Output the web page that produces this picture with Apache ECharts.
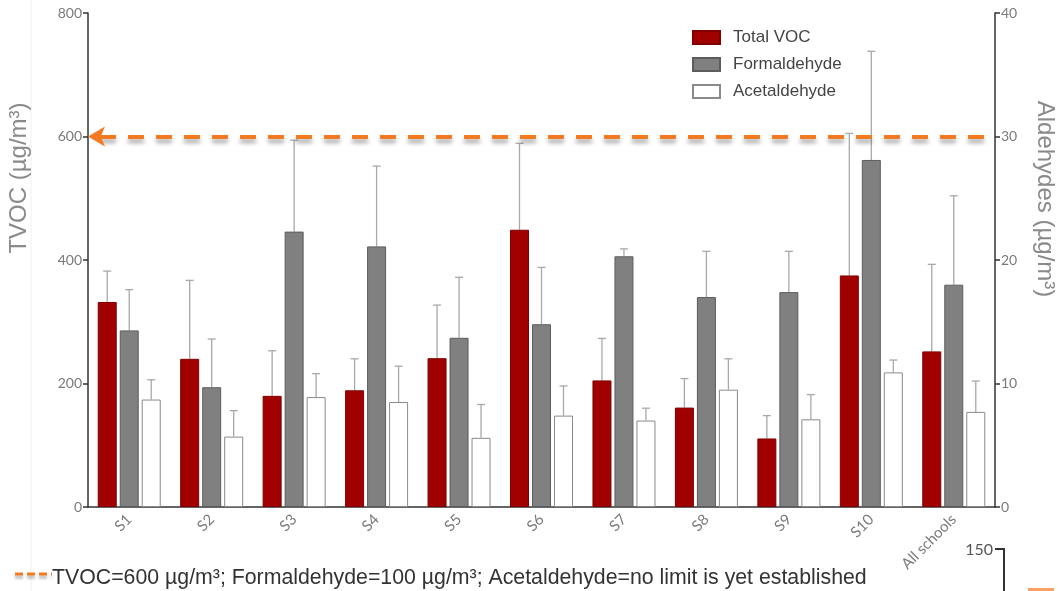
<!DOCTYPE html>
<html>
<head>
<meta charset="utf-8">
<script src="https://cdn.jsdelivr.net/npm/echarts@6/dist/echarts.min.js"></script>
<style>
html,body{margin:0;padding:0;background:#fff;}
#chart{width:1060px;height:591px;}
</style>
</head>
<body>
<div id="chart"></div>
<script>
// ---- data ----
var categories = ['S1','S2','S3','S4','S5','S6','S7','S8','S9','S10','All schools'];
var tvoc      = [332, 240, 180, 189, 241, 449, 205, 161, 111, 375, 252];
var tvocErr   = [382, 367, 253, 240, 327, 589, 273, 208, 148, 605, 393];
var formaldehyde    = [14.3, 9.7, 22.3, 21.1, 13.7, 14.8, 20.3, 17.0, 17.4, 28.1, 18.0];
var formaldehydeErr = [17.6, 13.6, 29.7, 27.6, 18.6, 19.4, 20.9, 20.7, 20.7, 36.9, 25.2];
var acetaldehyde    = [8.7, 5.7, 8.9, 8.5, 5.6, 7.4, 7.0, 9.5, 7.1, 10.9, 7.7];
var acetaldehydeErr = [10.3, 7.8, 10.8, 11.4, 8.3, 9.8, 8.0, 12.0, 9.1, 11.9, 10.2];
var tvocTicks = [0, 200, 400, 600, 800];
var aldehydeTicks = [0, 10, 20, 30, 40];
var tvocLimit = 600;

var BAR_W = 19, BAR_GAP = 3;

function errSeries(name, vals, errs, yIdx, offsetIdx) {
  var data = vals.map(function (v, i) { return [i, v, errs[i]]; });
  return {
    type: 'custom',
    name: name + ' err',
    yAxisIndex: yIdx,
    silent: true,
    z: 1,
    data: data,
    renderItem: function (params, api) {
      var i = api.value(0);
      var p0 = api.coord([i, api.value(1)]);
      var p1 = api.coord([i, api.value(2)]);
      var x = p0[0] + offsetIdx * (BAR_W + BAR_GAP);
      return {
        type: 'group',
        children: [
          { type: 'line', shape: { x1: x, y1: p0[1], x2: x, y2: p1[1] },
            style: { stroke: '#a8a8a8', lineWidth: 1.3 } },
          { type: 'line', shape: { x1: x - 4, y1: p1[1], x2: x + 4, y2: p1[1] },
            style: { stroke: '#a8a8a8', lineWidth: 1.3 } }
        ]
      };
    }
  };
}

var chart = echarts.init(document.getElementById('chart'), null, { renderer: 'canvas' });
var axisColor = '#333';
var labelColor = '#7a7a7a';

chart.setOption({
  animation: false,
  backgroundColor: '#fff',
  textStyle: { fontFamily: 'Liberation Sans, Arial, sans-serif' },
  grid: { left: 88, right: 65, top: 13, bottom: 84, containLabel: false },
  legend: {
    orient: 'vertical',
    left: 687,
    top: 24,
    icon: 'rect',
    itemWidth: 27,
    itemHeight: 13,
    itemGap: 10,
    selectedMode: false,
    textStyle: { fontSize: 17, color: '#444', padding: [0, 0, 0, 8] },
    data: [
      { name: 'Total VOC' },
      { name: 'Formaldehyde' },
      { name: 'Acetaldehyde' }
    ]
  },
  xAxis: {
    type: 'category',
    data: categories,
    axisLine: { lineStyle: { color: axisColor, width: 1.5 } },
    axisTick: { alignWithLabel: true, length: 5, lineStyle: { color: axisColor, width: 1.5 } },
    axisLabel: { rotate: 45, color: labelColor, fontSize: 15, margin: 10, fontFamily: 'Lato, sans-serif' },
    splitLine: { show: false }
  },
  yAxis: [
    {
      type: 'value', min: tvocTicks[0], max: tvocTicks[tvocTicks.length - 1], interval: 200,
      axisLine: { show: true, lineStyle: { color: axisColor, width: 1.5 } },
      axisTick: { show: true, length: 5, lineStyle: { color: axisColor, width: 1.5 } },
      axisLabel: { color: labelColor, fontSize: 14, margin: 6, fontFamily: 'Lato, sans-serif' },
      splitLine: { show: false }
    },
    {
      type: 'value', position: 'right', min: aldehydeTicks[0], max: aldehydeTicks[aldehydeTicks.length - 1], interval: 10,
      axisLine: { show: true, lineStyle: { color: axisColor, width: 1.5 } },
      axisTick: { show: true, length: 5, lineStyle: { color: axisColor, width: 1.5 } },
      axisLabel: { color: labelColor, fontSize: 14, margin: 6, fontFamily: 'Lato, sans-serif' },
      splitLine: { show: false }
    }
  ],
  series: [
    {
      name: 'Total VOC', type: 'bar', yAxisIndex: 0, data: tvoc,
      barWidth: BAR_W, barGap: (BAR_GAP / BAR_W * 100) + '%', z: 2,
      itemStyle: { color: '#a00000', borderColor: '#800000', borderWidth: 1 },
      markLine: {
        silent: true,
        symbol: ['arrow', 'none'],
        symbolSize: [15, 17],
        label: { show: false },
        lineStyle: {
          color: '#f47a22', width: 4, type: [16, 12], dashOffset: -12,
          shadowColor: 'rgba(0,0,0,0.35)', shadowBlur: 4, shadowOffsetY: 4
        },
        emphasis: { disabled: true },
        data: [{ yAxis: tvocLimit }]
      }
    },
    {
      name: 'Formaldehyde', type: 'bar', yAxisIndex: 1, data: formaldehyde,
      barWidth: BAR_W, barGap: (BAR_GAP / BAR_W * 100) + '%', z: 2,
      itemStyle: { color: '#808080', borderColor: '#5c5c5c', borderWidth: 1 }
    },
    {
      name: 'Acetaldehyde', type: 'bar', yAxisIndex: 1, data: acetaldehyde,
      barWidth: BAR_W, barGap: (BAR_GAP / BAR_W * 100) + '%', z: 2,
      itemStyle: { color: '#ffffff', borderColor: '#8a8a8a', borderWidth: 1 }
    },
    errSeries('Total VOC', tvoc, tvocErr, 0, -1),
    errSeries('Formaldehyde', formaldehyde, formaldehydeErr, 1, 0),
    errSeries('Acetaldehyde', acetaldehyde, acetaldehydeErr, 1, 1)
  ],
  graphic: [
    { type: 'line', shape: { x1: 31, y1: 0, x2: 31, y2: 591 }, style: { stroke: '#f0f0f0', lineWidth: 1 }, z: -1 },
    { type: 'text', x: 19, y: 178, rotation: Math.PI / 2,
      style: { text: 'TVOC (µg/m³)', fill: '#8a8a8a', font: '24px "Liberation Sans", Arial, sans-serif', align: 'center', verticalAlign: 'middle' } },
    { type: 'text', x: 1045, y: 199, rotation: -Math.PI / 2,
      style: { text: 'Aldehydes (µg/m³)', fill: '#8a8a8a', font: '24px "Liberation Sans", Arial, sans-serif', align: 'center', verticalAlign: 'middle' } },
    { type: 'line', shape: { x1: 15, y1: 574, x2: 52, y2: 574 },
      style: { stroke: '#f47a22', lineWidth: 3, lineDash: [8, 4], shadowColor: 'rgba(0,0,0,0.3)', shadowBlur: 3, shadowOffsetY: 3 } },
    { type: 'text', x: 52, y: 578,
      style: { text: 'TVOC=600 µg/m³; Formaldehyde=100 µg/m³; Acetaldehyde=no limit is yet established',
        fill: '#333', font: '21.3px "Liberation Sans", Arial, sans-serif', align: 'left', verticalAlign: 'middle' } },
    { type: 'text', x: 993, y: 550,
      style: { text: '150', fill: '#555', font: '16px Lato, sans-serif', align: 'right', verticalAlign: 'middle' } },
    { type: 'polyline', shape: { points: [[995, 549], [1004, 549], [1004, 591]] },
      style: { stroke: '#333', lineWidth: 2, fill: null } },
    { type: 'rect', shape: { x: 1028, y: 588, width: 26, height: 3 }, style: { fill: '#f7a264' } }
  ]
});
</script>
</body>
</html>
